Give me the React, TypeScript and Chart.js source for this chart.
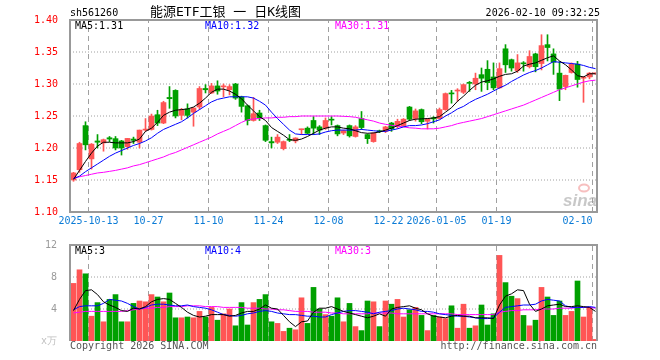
import React, { useEffect, useRef } from 'react';
import { Chart, registerables } from 'chart.js';

Chart.register(...registerables);

// ---------- data ----------
const opens = [
  1.150, 1.166, 1.235, 1.183, 1.211, 1.208, 1.216, 1.2146, 1.211, 1.202,
  1.214, 1.209, 1.228, 1.229, 1.252, 1.239, 1.279, 1.290, 1.251, 1.261,
  1.256, 1.264, 1.293, 1.286, 1.297, 1.2955, 1.291, 1.300, 1.280, 1.266,
  1.243, 1.2547, 1.235, 1.210, 1.209, 1.199, 1.213, 1.211, 1.2285, 1.231,
  1.243, 1.233, 1.231, 1.2445, 1.235, 1.2234, 1.235, 1.218, 1.246, 1.221,
  1.210, 1.2265, 1.226, 1.239, 1.234, 1.235, 1.264, 1.246, 1.260, 1.2417,
  1.2465, 1.246, 1.260, 1.2855, 1.289, 1.287, 1.302, 1.300, 1.3146, 1.323,
  1.311, 1.294, 1.355, 1.338, 1.321, 1.3325, 1.327, 1.347, 1.332, 1.3615,
  1.347, 1.317, 1.296, 1.318, 1.331, 1.309, 1.311, 1.316,
];
const highs = [
  1.162, 1.209, 1.241, 1.207, 1.221, 1.214, 1.218, 1.218, 1.212, 1.215,
  1.217, 1.228, 1.246, 1.253, 1.259, 1.273, 1.296, 1.291, 1.262, 1.269,
  1.263, 1.296, 1.299, 1.301, 1.305, 1.300, 1.299, 1.301, 1.281, 1.267,
  1.279, 1.259, 1.236, 1.217, 1.221, 1.211, 1.221, 1.216, 1.2295, 1.233,
  1.249, 1.235, 1.247, 1.249, 1.236, 1.228, 1.236, 1.235, 1.257, 1.222,
  1.224, 1.228, 1.234, 1.240, 1.245, 1.246, 1.265, 1.261, 1.261, 1.246,
  1.249, 1.2625, 1.286, 1.290, 1.2927, 1.300, 1.304, 1.317, 1.325, 1.3365,
  1.333, 1.333, 1.3615, 1.339, 1.346, 1.335, 1.352, 1.348, 1.377, 1.377,
  1.355, 1.335, 1.314, 1.333, 1.3354, 1.312, 1.318, 1.317,
];
const lows = [
  1.148, 1.162, 1.197, 1.167, 1.200, 1.195, 1.210, 1.197, 1.189, 1.198,
  1.207, 1.200, 1.226, 1.228, 1.235, 1.238, 1.262, 1.247, 1.244, 1.247,
  1.234, 1.260, 1.286, 1.285, 1.284, 1.280, 1.283, 1.276, 1.256, 1.236,
  1.242, 1.243, 1.210, 1.200, 1.207, 1.197, 1.210, 1.208, 1.221, 1.222,
  1.221, 1.221, 1.229, 1.236, 1.219, 1.221, 1.217, 1.217, 1.229, 1.207,
  1.209, 1.224, 1.224, 1.226, 1.231, 1.234, 1.243, 1.242, 1.238, 1.2297,
  1.239, 1.245, 1.259, 1.270, 1.273, 1.285, 1.2885, 1.291, 1.2885, 1.291,
  1.291, 1.293, 1.318, 1.320, 1.318, 1.320, 1.325, 1.319, 1.322, 1.336,
  1.315, 1.274, 1.291, 1.317, 1.295, 1.2714, 1.308, 1.315,
];
const closes = [
  1.161, 1.207, 1.205, 1.206, 1.209, 1.213, 1.214, 1.200, 1.200, 1.215,
  1.212, 1.228, 1.229, 1.250, 1.239, 1.271, 1.277, 1.250, 1.260, 1.251,
  1.2625, 1.293, 1.291, 1.297, 1.289, 1.2965, 1.296, 1.278, 1.265, 1.243,
  1.2536, 1.247, 1.212, 1.208, 1.217, 1.210, 1.212, 1.2156, 1.229, 1.223,
  1.231, 1.228, 1.243, 1.2435, 1.222, 1.227, 1.219, 1.233, 1.232, 1.2146,
  1.2234, 1.2255, 1.233, 1.230, 1.2417, 1.245, 1.245, 1.258, 1.241, 1.2453,
  1.2455, 1.260, 1.285, 1.2845, 1.290, 1.299, 1.301, 1.309, 1.309, 1.302,
  1.294, 1.324, 1.330, 1.325, 1.333, 1.3315, 1.343, 1.327, 1.360, 1.357,
  1.334, 1.292, 1.3135, 1.331, 1.307, 1.310, 1.317, 1.317,
];
const volumes = [
  7.2, 8.9, 8.4, 3.1, 4.8, 2.4, 5.2, 5.8, 2.4, 2.4,
  4.7, 5.0, 4.9, 5.8, 5.5, 4.9, 6.0, 2.9, 2.9, 3.0,
  2.9, 3.7, 3.0, 4.2, 2.6, 3.4, 4.0, 1.9, 4.8, 2.0,
  4.8, 5.2, 5.8, 2.4, 2.2, 1.2, 1.6, 1.4, 5.4, 2.2,
  6.7, 4.0, 3.3, 3.1, 5.4, 2.4, 4.7, 1.8, 1.3, 5.0,
  4.9, 1.8, 5.0, 4.6, 5.2, 3.0, 3.9, 4.2, 3.2, 1.3,
  3.2, 3.0, 2.8, 4.4, 1.6, 4.6, 1.6, 1.9, 4.5, 2.0,
  3.4, 10.7, 7.3, 5.6, 5.3, 3.2, 1.9, 2.6, 6.7, 5.5,
  3.2, 5.0, 3.2, 3.7, 7.5, 3.0, 4.2, 0.2,
];
const ma5 = [
  1.151, 1.165, 1.179, 1.192, 1.203, 1.209, 1.209, 1.208, 1.208, 1.208,
  1.210, 1.214, 1.226, 1.231, 1.240, 1.251, 1.256, 1.259, 1.260, 1.261,
  1.264, 1.270, 1.278, 1.287, 1.292, 1.292, 1.289, 1.284, 1.277, 1.267,
  1.258, 1.249, 1.243, 1.232, 1.226, 1.220, 1.213, 1.212, 1.214, 1.218,
  1.223, 1.228, 1.231, 1.233, 1.233, 1.231, 1.230, 1.227, 1.224, 1.223,
  1.2235, 1.225, 1.228, 1.231, 1.235, 1.239, 1.243, 1.245, 1.2455, 1.246,
  1.247, 1.249, 1.256, 1.263, 1.273, 1.281, 1.290, 1.298, 1.303, 1.305,
  1.308, 1.312, 1.315, 1.316, 1.320, 1.328, 1.331, 1.333, 1.337, 1.341,
  1.344, 1.336, 1.330, 1.322, 1.313, 1.311, 1.316, 1.316,
];
const ma10 = [
  1.152, 1.156, 1.163, 1.169, 1.175, 1.181, 1.187, 1.192, 1.196, 1.200,
  1.204, 1.207, 1.211, 1.216, 1.223, 1.229, 1.233, 1.237, 1.241, 1.247,
  1.254, 1.260, 1.266, 1.272, 1.276, 1.278, 1.280, 1.280, 1.280, 1.280,
  1.278, 1.273, 1.267, 1.256, 1.246, 1.237, 1.228, 1.222, 1.221, 1.221,
  1.221, 1.222, 1.225, 1.227, 1.228, 1.228, 1.228, 1.228, 1.229, 1.228,
  1.227, 1.226, 1.226, 1.228, 1.230, 1.233, 1.235, 1.235, 1.236, 1.238,
  1.241, 1.244, 1.250, 1.255, 1.261, 1.265, 1.271, 1.276, 1.280, 1.284,
  1.289, 1.294, 1.298, 1.304, 1.309, 1.314, 1.318, 1.321, 1.325, 1.330,
  1.335, 1.334, 1.333, 1.332, 1.331, 1.329, 1.326, 1.324,
];
const ma30 = [
  1.153, 1.155, 1.157, 1.159, 1.161, 1.162, 1.1635, 1.165, 1.167, 1.169,
  1.172, 1.174, 1.177, 1.180, 1.183, 1.186, 1.190, 1.193, 1.197, 1.201,
  1.205, 1.209, 1.213, 1.217, 1.222, 1.226, 1.230, 1.235, 1.240, 1.244,
  1.2455, 1.246, 1.247, 1.247, 1.248, 1.248, 1.249, 1.249, 1.250, 1.250,
  1.250, 1.250, 1.250, 1.250, 1.250, 1.2495, 1.249, 1.248, 1.246, 1.244,
  1.242, 1.239, 1.237, 1.2355, 1.234, 1.233, 1.2315, 1.231, 1.230, 1.230,
  1.230, 1.231, 1.233, 1.235, 1.238, 1.240, 1.242, 1.244, 1.246, 1.249,
  1.252, 1.255, 1.258, 1.261, 1.264, 1.267, 1.271, 1.275, 1.279, 1.283,
  1.287, 1.291, 1.294, 1.297, 1.300, 1.303, 1.305, 1.306,
];
const volMa5 = [
  3.8, 5.2, 6.3, 6.4, 5.8, 4.9, 4.5, 4.2, 3.8, 3.7,
  4.1, 4.0, 4.3, 4.9, 5.2, 5.3, 5.2, 4.7, 4.2, 3.6,
  3.2, 3.0, 3.1, 3.3, 3.3, 3.3, 3.1, 3.2, 3.5, 3.7,
  3.7, 4.0, 4.5, 4.1, 4.0, 3.2, 2.4, 1.8, 2.4, 2.5,
  3.6, 4.1, 4.1, 4.3, 4.0, 3.7, 3.5, 3.3, 3.1, 2.9,
  3.1, 3.4, 3.1, 4.0, 4.2, 4.3, 4.4, 4.1, 3.9, 3.4,
  3.1, 3.0, 2.9, 3.1, 3.2, 3.1, 3.1, 2.9, 2.9, 2.9,
  2.8, 4.5, 5.6, 5.9, 6.4, 6.3, 4.6, 3.7, 4.0, 4.4,
  4.5, 4.6, 4.3, 4.3, 4.4, 4.3, 4.2, 3.7,
];
const volMa10 = [
  3.9, 4.3, 4.4, 4.4, 4.4, 4.7, 5.2, 5.1, 5.0, 4.7,
  4.3, 4.0, 4.2, 4.5, 4.6, 4.6, 4.5, 4.4, 4.4, 4.5,
  4.3, 4.2, 4.1, 3.9, 3.6, 3.3, 3.2, 3.1, 3.2, 3.4,
  3.5, 3.7, 3.8, 3.7, 3.5, 3.4, 3.3, 3.3, 3.2, 3.1,
  3.1, 3.0, 3.0, 3.3, 3.5, 3.7, 3.8, 3.8, 3.7, 3.6,
  3.4, 3.6, 3.7, 3.8, 4.0, 4.1, 4.0, 3.9, 3.7, 3.7,
  3.6, 3.4, 3.3, 3.2, 3.1, 3.1, 3.0, 2.9, 2.8, 2.8,
  2.9, 3.6, 4.2, 4.3, 4.4, 4.5, 4.5, 4.6, 5.0, 5.2,
  5.1, 5.0, 4.4, 4.2, 4.2, 4.2, 4.3, 4.2,
];
const volMa30 = [
  3.5, 3.6, 3.7, 3.7, 3.7, 3.7, 3.7, 3.7, 3.7, 3.8,
  3.9, 4.0, 4.1, 4.1, 4.2, 4.2, 4.3, 4.3, 4.3, 4.4,
  4.4, 4.4, 4.3, 4.3, 4.3, 4.2, 4.2, 4.2, 4.2, 4.1,
  4.1, 4.1, 4.0, 4.0, 3.9, 3.9, 3.8, 3.7, 3.7, 3.7,
  3.6, 3.6, 3.6, 3.5, 3.5, 3.4, 3.4, 3.4, 3.4, 3.4,
  3.5, 3.5, 3.5, 3.5, 3.4, 3.4, 3.4, 3.4, 3.4, 3.4,
  3.4, 3.4, 3.4, 3.4, 3.3, 3.3, 3.3, 3.3, 3.3, 3.3,
  3.3, 3.6, 3.7, 3.8, 3.8, 3.9, 3.9, 3.9, 4.0, 4.0,
  4.0, 4.1, 4.1, 4.1, 4.2, 4.2, 4.2, 4.1,
];

const dateTickIndex = [3, 13, 23, 33, 43, 53, 61, 71, 87];
const dateTickLabels = ['2025-10-13', '10-27', '11-10', '11-24', '12-08', '12-22', '2026-01-05', '01-19', '02-10'];
const priceTicks = [1.10, 1.15, 1.20, 1.25, 1.30, 1.35, 1.40];
const volTicks = [0, 4, 8, 12];
const volTickLabels = ['x万', '4', '8', '12'];

const symbolText = 'sh561260';
const titleText = '能源ETF工银 一 日K线图';
const timeText = '2026-02-10 09:32:25';
const priceLegend = ['MA5:1.31', 'MA10:1.32', 'MA30:1.31'];
const volLegend = ['MA5:3', 'MA10:4', 'MA30:3'];
const copyrightText = 'Copyright 2026 SINA.COM';
const urlText = 'http://finance.sina.com.cn';

// ---------- styles ----------
const RED = '#ff5555';
const GREEN = '#00a000';
const MA_COLORS = ['#000000', '#0000ff', '#ff00ff'];
const FRAME = '#999999';
const GRID = '#a0a0a0';
const DATE_COLOR = '#0b7bd6';
const MONO = '"DejaVu Sans Mono", "Liberation Mono", monospace';
const X_MIN = -3.5 / 6;
const X_MAX = 87.25;
const LEGEND_X = [75, 205, 335];

const idx = closes.map((_, i) => i);
const upColor = idx.map((i) => (closes[i] >= opens[i] ? RED : GREEN));

function lineDs(values: number[], color: string) {
  return {
    type: 'line' as const,
    data: idx.map((i) => ({ x: i, y: values[i] })),
    borderColor: color,
    borderWidth: 1,
    pointRadius: 0,
    tension: 0,
    fill: false,
    order: 0,
  };
}

// grid drawn as library line datasets (behind everything: highest order)
function gridDatasets(hTicks: number[], lo: number, hi: number) {
  const base = { type: 'line' as const, borderColor: GRID, borderWidth: 1, pointRadius: 0, fill: false, tension: 0, order: 9 };
  const vertical = dateTickIndex.map((ti) => ({
    ...base,
    data: [{ x: ti - 0.5, y: lo }, { x: ti - 0.5, y: hi }],
    borderDash: [5, 4],
  }));
  const horizontal = hTicks
    .filter((v) => v > lo + 1e-9 && v < hi - 1e-9)
    .map((v) => ({
      ...base,
      data: [{ x: X_MIN, y: v }, { x: X_MAX, y: v }],
      borderDash: [1, 2],
    }));
  return [...vertical, ...horizontal];
}

function xScale(heightAfterFit: number) {
  return {
    type: 'linear' as const,
    min: X_MIN,
    max: X_MAX,
    offset: false,
    bounds: 'data' as const,
    afterFit: (s: any) => {
      s.height = heightAfterFit;
    },
    ticks: { display: false },
    grid: { display: false },
    border: { display: false },
  };
}

const mainDeco = {
  id: 'mainDeco',
  afterDraw(chart: any) {
    const { ctx, chartArea: ca, scales } = chart;
    ctx.save();
    ctx.strokeStyle = FRAME;
    ctx.lineWidth = 2;
    ctx.strokeRect(ca.left, ca.top, ca.right - ca.left, ca.bottom - ca.top);

    ctx.textBaseline = 'middle';
    ctx.font = `10px ${MONO}`;
    ctx.fillStyle = DATE_COLOR;
    dateTickIndex.forEach((ti, k) => {
      const px = scales.x.getPixelForValue(ti - 0.5);
      const last = k === dateTickIndex.length - 1;
      ctx.textAlign = last ? 'right' : 'center';
      ctx.fillText(dateTickLabels[k], px, ca.bottom + 9);
    });

    ctx.fillStyle = '#000';
    ctx.textAlign = 'left';
    ctx.fillText(symbolText, 70, 13);
    ctx.textAlign = 'right';
    ctx.fillText(timeText, 600, 13);
    ctx.textAlign = 'left';
    ctx.font = `13px "DejaVu Sans Mono", "Noto Sans CJK SC", sans-serif`;
    ctx.fillText(titleText, 150, 13);

    ctx.font = `10px ${MONO}`;
    priceLegend.forEach((t, k) => {
      ctx.fillStyle = MA_COLORS[k];
      ctx.fillText(t, LEGEND_X[k], ca.top + 6);
    });

    // sina watermark
    ctx.globalAlpha = 0.55;
    ctx.strokeStyle = '#f08a8a';
    ctx.lineWidth = 2;
    ctx.beginPath();
    ctx.ellipse(584, 188, 5, 3.5, 0, 0, Math.PI * 2);
    ctx.stroke();
    ctx.fillStyle = '#9a9a9a';
    ctx.font = 'italic bold 17px "Liberation Sans", sans-serif';
    ctx.textAlign = 'center';
    ctx.fillText('sina', 580, 201);
    ctx.restore();
  },
};

const volDeco = {
  id: 'volDeco',
  afterDraw(chart: any) {
    const { ctx, chartArea: ca } = chart;
    ctx.save();
    ctx.strokeStyle = FRAME;
    ctx.lineWidth = 2;
    ctx.beginPath();
    ctx.moveTo(ca.left, ca.bottom);
    ctx.lineTo(ca.left, ca.top);
    ctx.lineTo(ca.right, ca.top);
    ctx.lineTo(ca.right, ca.bottom);
    ctx.stroke();

    ctx.textBaseline = 'middle';
    ctx.font = `10px ${MONO}`;
    ctx.textAlign = 'left';
    volLegend.forEach((t, k) => {
      ctx.fillStyle = MA_COLORS[k];
      ctx.fillText(t, LEGEND_X[k], ca.top + 6);
    });
    ctx.fillStyle = '#555';
    ctx.fillText(copyrightText, 70, ca.bottom + 5);
    ctx.textAlign = 'right';
    ctx.fillText(urlText, 597, ca.bottom + 5);
    ctx.restore();
  },
};

export default function App() {
  const mainRef = useRef<HTMLCanvasElement>(null);
  const volRef = useRef<HTMLCanvasElement>(null);

  useEffect(() => {
    document.body.style.margin = '0';
    const common = {
      responsive: false,
      maintainAspectRatio: false,
      animation: false as const,
      events: [] as any[],
      plugins: { legend: { display: false }, tooltip: { enabled: false } },
    };

    const mainChart = new Chart(mainRef.current!, {
      type: 'bar',
      data: {
        datasets: [
          lineDs(ma5, MA_COLORS[0]),
          lineDs(ma10, MA_COLORS[1]),
          lineDs(ma30, MA_COLORS[2]),
          {
            type: 'bar',
            data: idx.map((i) => ({ x: i, y: [opens[i], closes[i]] })),
            backgroundColor: upColor,
            barThickness: 5,
            minBarLength: 1,
            grouped: false,
            order: 1,
          } as any,
          {
            type: 'bar',
            data: idx.map((i) => ({ x: i, y: [lows[i], highs[i]] })),
            backgroundColor: upColor,
            barThickness: 1,
            minBarLength: 1,
            grouped: false,
            order: 2,
          } as any,
          ...gridDatasets(priceTicks, priceTicks[0], priceTicks[priceTicks.length - 1]),
        ],
      },
      options: {
        ...common,
        layout: { padding: { top: 20, right: 63, left: 0, bottom: 0 } },
        scales: {
          x: xScale(22) as any,
          y: {
            type: 'linear',
            min: 1.10,
            max: 1.40,
            bounds: 'data',
            afterBuildTicks: (s: any) => {
              s.ticks = priceTicks.map((v) => ({ value: v }));
            },
            afterFit: (s: any) => {
              s.width = 70;
            },
            ticks: {
              color: '#ff0000',
              font: { family: MONO, size: 10 },
              padding: 4,
              callback: (v: any) => Number(v).toFixed(2),
            },
            grid: { display: false },
            border: { display: false },
          } as any,
        },
      },
      plugins: [mainDeco],
    } as any);

    const volChart = new Chart(volRef.current!, {
      type: 'bar',
      data: {
        datasets: [
          lineDs(volMa5, MA_COLORS[0]),
          lineDs(volMa10, MA_COLORS[1]),
          lineDs(volMa30, MA_COLORS[2]),
          {
            type: 'bar',
            data: idx.map((i) => ({ x: i, y: volumes[i] })),
            backgroundColor: upColor,
            barThickness: 5,
            grouped: false,
            order: 1,
          } as any,
          ...gridDatasets(volTicks, volTicks[0], volTicks[volTicks.length - 1]),
        ],
      },
      options: {
        ...common,
        layout: { padding: { top: 7, right: 63, left: 0, bottom: 0 } },
        scales: {
          x: xScale(19) as any,
          y: {
            type: 'linear',
            min: 0,
            max: 12,
            bounds: 'data',
            afterBuildTicks: (s: any) => {
              s.ticks = volTicks.map((v) => ({ value: v }));
            },
            afterFit: (s: any) => {
              s.width = 70;
            },
            ticks: {
              color: (c: any) => (c.tick && c.tick.value === 0 ? '#c0c0c0' : '#9a9a9a'),
              font: { family: MONO, size: 10 },
              padding: 5,
              callback: (v: any) => {
                const k = volTicks.indexOf(Number(v));
                return k >= 0 ? volTickLabels[k] : '';
              },
            },
            grid: { display: false },
            border: { display: false },
          } as any,
        },
      },
      plugins: [volDeco],
    } as any);

    return () => {
      mainChart.destroy();
      volChart.destroy();
    };
  }, []);

  return (
    <div style={{ position: 'relative', width: 660, height: 360, background: '#fff' }}>
      <canvas ref={mainRef} width={660} height={234} style={{ position: 'absolute', left: 0, top: 0 }} />
      <canvas ref={volRef} width={660} height={126} style={{ position: 'absolute', left: 0, top: 234 }} />
    </div>
  );
}
